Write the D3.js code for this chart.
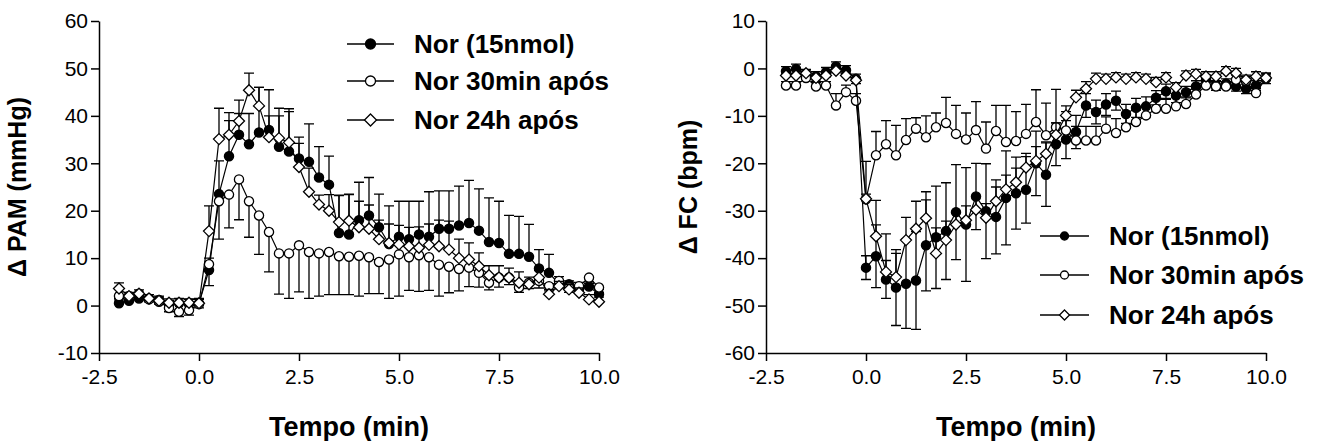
<!DOCTYPE html>
<html>
<head>
<meta charset="utf-8">
<script src="https://cdn.jsdelivr.net/npm/d3@7"></script>
<style>
body{margin:0;background:#fff}
svg{display:block;font-family:"Liberation Sans",Arial,sans-serif}
</style>
</head>
<body>
<div id="graph"></div>
<script>
// time points (min)
var times = [-2,-1.75,-1.5,-1.25,-1,-0.75,-0.5,-0.25,0,
	0.25,0.5,0.75,1,1.25,1.5,1.75,2,2.25,2.5,
	2.75,3,3.25,3.5,3.75,4,4.25,4.5,4.75,5,
	5.25,5.5,5.75,6,6.25,6.5,6.75,7,7.25,7.5,
	7.75,8,8.25,8.5,8.75,9,9.25,9.5,9.75,10]

var seriesNames = ['Nor (15nmol)', 'Nor 30min após', 'Nor 24h após']

// Δ PAM (mmHg)
var pamNor = [0.5,1,1.5,1.5,1.2,0.3,0.5,0.3,0.5,
	7.5,23.5,31.5,36,34,36.5,37,33.5,32.5,31,
	30.3,27,25.5,15.3,15,18,19,16.5,13,14.5,
	14,15,14.5,16.2,16.2,16.9,17.4,15.8,13.4,13.2,
	10.9,10.9,10.3,7.8,6.9,4.5,4.5,3.4,4,2.4]
var pamNorErr = [1,1,1,0.8,0.8,0.8,1,1,1,
	2.5,7,7.5,4.5,6.5,9.5,8.5,6.5,9,4.5,
	8,6.5,6,8,8.5,8,8,7,8,7.5,
	8,7,9.5,8,8,8.3,9,8.8,9.3,8.8,
	8.1,7.9,6.8,4,3.9,1.6,0.7,1.5,1,1]
var pam30 = [2,2,2.5,1.3,0.8,-0.5,-1.3,-1,0.3,
	8.7,22,23.4,26.6,22,19,15.5,11,11,12.7,
	11.3,11,11.3,10.4,10.3,10.5,10.2,9.2,9.7,10.8,
	10.2,10.6,10.2,8.6,8.2,7.7,8,6.9,4.8,5.9,
	5.9,3.8,4.8,5.2,4.1,5.2,3.8,4.1,5.9,3.8]
var pam30Err = [0.8,0.8,0.8,0.5,0.5,0.8,1,1,0.8,
	4.5,8,7,8.5,7.6,8.2,8.4,8.6,9.5,9.8,
	9.8,9,9,8.1,8,8.5,7.7,6.7,8.2,8.8,
	7,7.6,7,6.6,5.5,4.6,4,3,1.5,2,
	1.5,1,1.2,1.5,1,1.5,1,1,1.2,1]
var pam24 = [3.6,2,2.5,1.5,1,0.6,0.6,0.6,0.5,
	15.7,35.1,36,38.9,45.4,42.1,35.5,35.3,34.4,29.2,
	24,21.3,20,17.6,17.9,16.5,16.2,14,13.2,12.9,
	12.5,12.2,12.8,12.5,11.8,10,9.7,8.3,6.4,5.9,
	5.9,4.8,4.5,5.9,2.4,4.1,3.4,2.7,1.3,0.8]
var pam24Err = [1.2,0.8,0.8,0.8,0.8,0.8,0.8,0.8,0.8,
	5.3,6.5,4.7,4.4,3.6,3.9,4.5,6.3,6.5,5,
	5,2,3.4,5.6,5.5,5.5,5,4,4,4,
	4,4.4,4.4,5.5,6,4,3.5,2.8,2,2.5,
	2,2.3,1.5,1.5,1,1,1,1,1,1]

// Δ FC (bpm)
var fcNor = [-0.6,-0.1,-1.2,-1.7,-0.8,0.4,-0.4,-2.2,-42,
	-39.6,-44.5,-46.2,-45.4,-44.7,-37.3,-35.6,-34.3,-30.3,-32.9,
	-27,-30.1,-31.3,-27.3,-26.3,-25.6,-20,-22.4,-16,-15,
	-13.4,-7.8,-9.2,-7.6,-6.8,-9.6,-8.3,-8,-6.2,-4.8,
	-5.7,-5,-3.8,-2.4,-3.6,-3.2,-3.8,-4.3,-3.6,-2.2]
var fcNorErr = [1,1,1,1,1,1,1,1,2.5,
	6.6,4,8,9.4,10.3,9.6,10.8,10.2,10,12,
	7,10,7.8,9.9,7.6,7,6.8,6.7,4.5,4,
	3.5,2.5,2.5,2.3,2,2,2,2,1.5,1.5,
	1.5,1.2,1.2,1,1,1,1,1,1,1]
var fc30 = [-3.6,-3.6,-2,-3.8,-3.6,-7.8,-5,-6.8,-27.6,
	-18.3,-16,-18.3,-15.1,-12.7,-14.5,-12.4,-11.5,-13.8,-15,
	-13,-16.9,-13.2,-15.5,-15.3,-13.8,-11.3,-14.1,-12.4,-13.1,
	-15.2,-15.2,-15.2,-12.7,-13.6,-12.4,-11.3,-9.9,-8.5,-8.5,
	-8,-7.5,-5.5,-3.6,-3.8,-3.8,-2.4,-2.7,-5.2,-2]
var fc30Err = [0.8,0.8,0.8,0.8,0.8,2.5,1.5,1.5,8,
	5,5,6.3,4.5,2.3,4.5,3,5.4,6,5.6,
	6,5.6,5.4,7.7,6.2,6.2,6.8,6.8,8,4,
	3,3,3,2.5,3,2.5,2.5,2,2,2,
	2,1.5,1.2,1,1,1,1,1,1,1]
var fc24 = [-1.5,-1.5,-1,-2,-1.5,-0.5,-1.5,-2.5,-27.5,
	-35.4,-42.9,-44,-36.2,-33.8,-31.6,-39,-36.2,-32.9,-32,
	-29.8,-31.5,-28,-25.5,-24,-20.9,-19.5,-18,-14,-9.9,
	-6.1,-4.3,-2.2,-2.2,-1.9,-2.2,-1.9,-2.2,-2.9,-1.9,
	-4,-1.5,-1.2,-1.7,-1.7,-0.6,-1,-2.4,-1.7,-2]
var fc24Err = [0.5,0.5,0.5,0.5,0.5,0.5,0.5,0.5,1,
	7.6,8,5,4.8,5.8,5.6,5.4,4,2.6,3,
	3,3,3,3,3,3,3,2.5,2.5,2,
	1.5,1.5,1.2,1,1,1,1,1,1,1,
	1,1,1,1,1,1,1,1,1,1]

var timeTicks = [-2.5, 0, 2.5, 5, 7.5, 10]
var pamTicks = [-10, 0, 10, 20, 30, 40, 50, 60]
var fcTicks = [-60, -50, -40, -30, -20, -10, 0, 10]

var svg = d3.select('#graph').append('svg')
	.attr('width', 1319).attr('height', 441)

function marker(sel, type, r){
	if (type == 'diamond'){
		sel.append('path')
			.attr('d', 'M0,' + (-r) + 'L' + r + ',0L0,' + r + 'L' + (-r) + ',0Z')
			.attr('fill', '#fff').attr('stroke', '#000').attr('stroke-width', 1.3)
	} else {
		sel.append('circle').attr('r', r)
			.attr('fill', type == 'filled' ? '#000' : '#fff')
			.attr('stroke', '#000').attr('stroke-width', 1.3)
	}
}

function drawPanel(p){
	var x = d3.scaleLinear().domain([-2.5, 10]).range([p.left, p.left + 500])
	var y = d3.scaleLinear().domain([p.ticks[0], p.ticks[p.ticks.length - 1]]).range([353, 21])
	var g = svg.append('g')

	g.append('g').attr('transform', 'translate(0,353)')
		.call(d3.axisBottom(x).tickValues(timeTicks).tickSize(8).tickSizeOuter(0).tickPadding(8)
			.tickFormat(d => d.toFixed(1)))
	g.append('g').attr('transform', 'translate(' + p.left + ',0)')
		.call(d3.axisLeft(y).tickValues(p.ticks).tickSize(8).tickSizeOuter(0).tickPadding(3)
			.tickFormat(d => String(d)))
	g.selectAll('.domain, .tick line').attr('stroke', '#000').attr('stroke-width', 1.5)
	g.selectAll('.tick text').attr('font-size', 21).attr('fill', '#000')
		.attr('font-family', '"Liberation Sans", Arial, sans-serif')

	g.append('text').attr('x', p.left + 250).attr('y', 436)
		.attr('text-anchor', 'middle').attr('font-size', 27).attr('font-weight', 'bold')
		.text('Tempo (min)')
	g.append('text')
		.attr('transform', 'translate(' + p.titleX + ',' + 187 + ') rotate(-90)')
		.attr('text-anchor', 'middle').attr('font-size', 25).attr('font-weight', 'bold')
		.text(p.title)

	var line = d3.line().x((d, i) => x(times[i])).y(d => y(d))

	p.series.forEach(function(s){
		var sg = g.append('g')
		// error bars
		s.values.forEach(function(v, i){
			var dirs = s.dir == 0 ? [1, -1] : [s.dir]
			dirs.forEach(function(dir){
				var yv = y(v + dir*s.err[i])
				sg.append('path')
					.attr('d', 'M' + x(times[i]) + ',' + y(v) + 'V' + yv
						+ 'M' + (x(times[i]) - 5) + ',' + yv + 'H' + (x(times[i]) + 5))
					.attr('stroke', '#000').attr('stroke-width', 1.3).attr('fill', 'none')
			})
		})
		sg.append('path').datum(s.values)
			.attr('d', line).attr('fill', 'none').attr('stroke', '#000').attr('stroke-width', 1.2)
		s.values.forEach(function(v, i){
			var m = sg.append('g').attr('transform', 'translate(' + x(times[i]) + ',' + y(v) + ')')
			marker(m, s.type, s.type == 'diamond' ? 5.5 : 4.6)
		})
	})

	// legend
	p.series.forEach(function(s, i){
		var ly = p.legend.y[i]
		var lg = g.append('g').attr('transform', 'translate(' + p.legend.x + ',' + ly + ')')
		lg.append('path').attr('d', 'M0,0H' + p.legend.w).attr('stroke', '#000').attr('stroke-width', 1.3)
		var m = lg.append('g').attr('transform', 'translate(' + p.legend.w/2 + ',0)')
		marker(m, s.type, s.type == 'diamond' ? p.legend.r + 1 : p.legend.r)
		lg.append('text').attr('x', p.legend.w + 20).attr('y', 9)
			.attr('font-size', 26).attr('font-weight', 'bold')
			.text(seriesNames[i])
	})
}

drawPanel({
	left: 99, ticks: pamTicks, title: 'Δ PAM (mmHg)', titleX: 26,
	series: [
		{values: pamNor, err: pamNorErr, type: 'filled', dir: 1},
		{values: pam30, err: pam30Err, type: 'open', dir: -1},
		{values: pam24, err: pam24Err, type: 'diamond', dir: 1}
	],
	legend: {x: 347, w: 47, r: 5, y: [44, 81, 120]}
})

drawPanel({
	left: 766, ticks: fcTicks, title: 'Δ FC (bpm)', titleX: 697,
	series: [
		{values: fcNor, err: fcNorErr, type: 'filled', dir: 0},
		{values: fc30, err: fc30Err, type: 'open', dir: 1},
		{values: fc24, err: fc24Err, type: 'diamond', dir: 1}
	],
	legend: {x: 1040, w: 49, r: 4, y: [236, 275, 315]}
})
</script>
</body>
</html>
